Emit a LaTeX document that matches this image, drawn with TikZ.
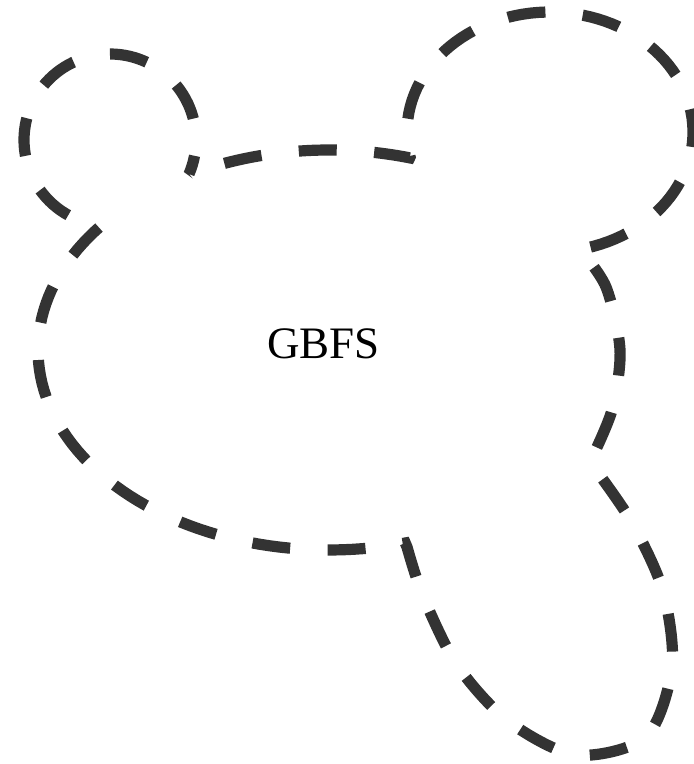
\documentclass[tikz,border=0pt]{standalone}
\usepackage{fontspec}
\setmainfont{Liberation Serif}
\usetikzlibrary{positioning}
\definecolor{cloudgray}{HTML}{333333}

\begin{document}
\begin{tikzpicture}[
  x=0.5pt, y=-0.5pt,
  cloudline/.style={draw=cloudgray, line width=5.6pt, dash pattern=on 19pt off 18.75pt,
    dash phase=19pt, line join=miter, miter limit=2.5},
  maintext/.style={font=\fontsize{22.5}{27}\selectfont, inner sep=0pt, text=black},
]
  \useasboundingbox (0,0) rectangle (694,764);

  % cusps where the lobes meet the body
  \coordinate (topleft) at (189,174);
  \coordinate (topright) at (410,157);
  \coordinate (rightup) at (579,248);
  \coordinate (rightdown) at (590,462);
  \coordinate (bottom) at (407,547);
  \coordinate (left) at (101,226);

  % outline, clockwise from the upper left cusp:
  % body, upper right lobe, body, lower right lobe, body, upper left lobe
  \draw[cloudline] (topleft)
    -- plot[domain=-118.7:-73.9, samples=40] ({329+291*cos(\x)}, {350+200*sin(\x)})
    -- plot[domain=168:438.2, samples=90] ({550+143*cos(\x)}, {132+120*sin(\x)})
    -- plot[smooth] coordinates {(579,248) (606,287) (620,350) (612,410) (590,462)}
    -- plot[smooth] coordinates {(590,462) (631,521) (663,591) (672,667) (646,737)
         (576,755) (508,721) (457,665) (423,596) (407,547)}
    -- plot[domain=74.8:218.4, samples=70] ({329+291*cos(\x)}, {350+200*sin(\x)})
    -- plot[domain=96:383.3, samples=90] ({110+86*cos(\x)}, {140+86*sin(\x)})
    -- cycle;

  \node[maintext] (gbfs) at (323.5,344) {GBFS};
\end{tikzpicture}
\end{document}
